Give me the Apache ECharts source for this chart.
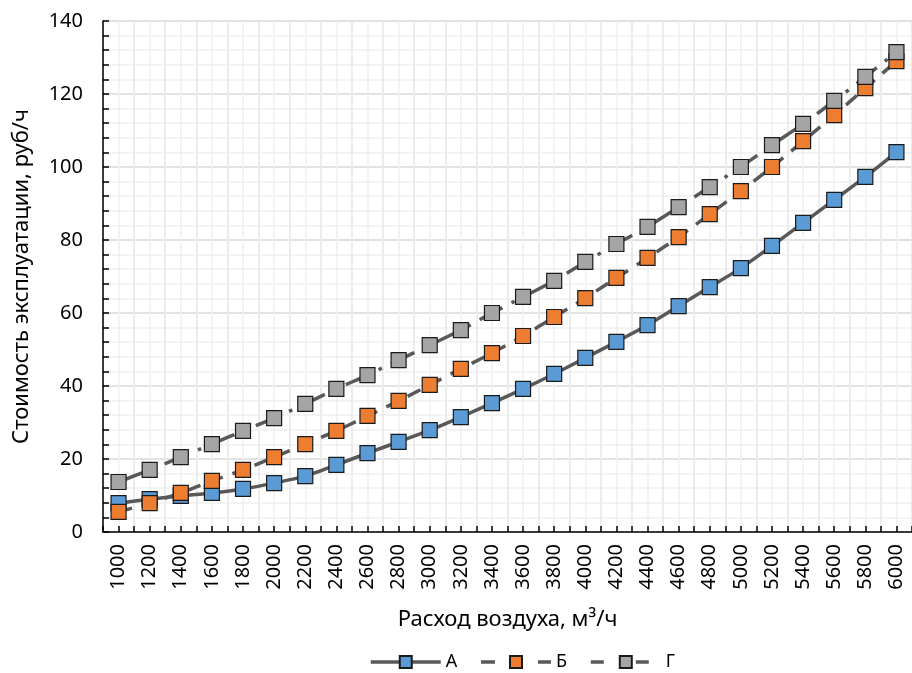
<!DOCTYPE html>
<html><head><meta charset="utf-8">
<script src="https://cdn.jsdelivr.net/npm/echarts@6/dist/echarts.min.js"></script>
<style>html,body{margin:0;padding:0;background:#fff}#c{width:912px;height:673px}</style>
</head><body><div id="c"></div>
<script>
const categories = ['1000','1200','1400','1600','1800','2000','2200','2400','2600','2800','3000','3200','3400','3600','3800','4000','4200','4400','4600','4800','5000','5200','5400','5600','5800','6000'];
const seriesA = [7.9,9.0,9.9,10.7,11.8,13.4,15.3,18.4,21.6,24.7,27.9,31.5,35.3,39.2,43.3,47.7,52.1,56.7,61.9,67.1,72.3,78.4,84.7,91.0,97.3,104.1];
const seriesB = [5.5,7.9,10.7,14.0,17.0,20.5,24.1,27.7,31.8,35.9,40.3,44.7,49.0,53.7,58.9,64.1,69.6,75.1,80.8,87.1,93.4,100.0,107.1,114.2,121.6,129.0];
const seriesG = [13.7,17.0,20.5,24.1,27.7,31.2,35.1,39.2,43.0,47.1,51.2,55.3,60.0,64.4,68.8,74.0,78.9,83.6,89.0,94.5,100.0,106.0,111.8,118.1,124.7,131.5];
const names = ['А','Б','Г'];
const yTicks = {min:0, max:140, interval:20};

const FONT = 'Noto Sans';
const chart = echarts.init(document.getElementById('c'), null, {renderer:'canvas'});
function mk(name, data, color, dash){
  return {
    name, type:'line', data, xAxisIndex:0, yAxisIndex:0,
    smooth:0.2, symbol:'rect', symbolSize:15,
    lineStyle:{color:'#595959', width:3.5, type:dash, cap:'butt'},
    itemStyle:{color:color, borderColor:'#1a1a1a', borderWidth:1.2},
    emphasis:{disabled:true}, animation:false
  };
}
chart.setOption({
  animation:false,
  textStyle:{fontFamily:FONT},
  grid:{left:103, top:21, width:816, height:511, containLabel:false},
  legend:{
    top:648, left:364, itemWidth:70, itemHeight:15, itemGap:22,
    textStyle:{fontFamily:FONT, fontSize:18, color:'#000'},
    lineStyle:{width:3.5, color:'#595959'},
    data:[
      {name:names[0]},
      {name:names[1], lineStyle:{width:3.5, color:'#595959', type:[14,43]}},
      {name:names[2], lineStyle:{width:3.5, color:'#595959', type:[13,32]}}
    ]
  },
  xAxis:[{
    type:'category', data:categories, boundaryGap:true,
    axisLine:{show:false},
    axisTick:{show:false},
    axisLabel:{rotate:90, fontSize:20, color:'#000', margin:12, fontFamily:FONT},
    splitLine:{show:true, lineStyle:{color:'#d9d9d9', width:1.5}},
    name:'Расход воздуха, м³/ч', nameLocation:'middle', nameGap:77,
    nameTextStyle:{fontSize:22, color:'#000', fontFamily:FONT}
  },{
    type:'value', min:0, max:26, interval:0.5, position:'bottom',
    axisLine:{show:true, onZero:false, lineStyle:{color:'#000', width:1.5}},
    axisTick:{show:true, inside:true, length:6, lineStyle:{color:'#000', width:1.5}},
    axisLabel:{show:false},
    splitLine:{show:true, lineStyle:{color:'#efefef', width:1.5}}
  }],
  yAxis:[{
    type:'value', min:yTicks.min, max:yTicks.max, interval:yTicks.interval,
    axisLine:{show:true, lineStyle:{color:'#000', width:1.5}},
    axisTick:{show:true, inside:true, length:6, lineStyle:{color:'#000', width:1.5}},
    minorTick:{show:true, splitNumber:5, length:6, lineStyle:{color:'#000', width:1.5}},
    minorSplitLine:{show:true, lineStyle:{color:'#efefef', width:1.5}},
    splitLine:{show:true, lineStyle:{color:'#d9d9d9', width:1.5}},
    axisLabel:{fontSize:20, color:'#000', margin:20, fontFamily:FONT},
    name:'Стоимость эксплуатации, руб/ч', nameLocation:'middle', nameGap:70,
    nameTextStyle:{fontSize:22, color:'#000', fontFamily:FONT}
  }],
  series:[
    mk(names[0], seriesA, '#5b9bd5', 'solid'),
    mk(names[1], seriesB, '#ed7d31', [14,10]),
    mk(names[2], seriesG, '#a5a5a5', [26,10,3.5,10])
  ]
});
</script></body></html>
